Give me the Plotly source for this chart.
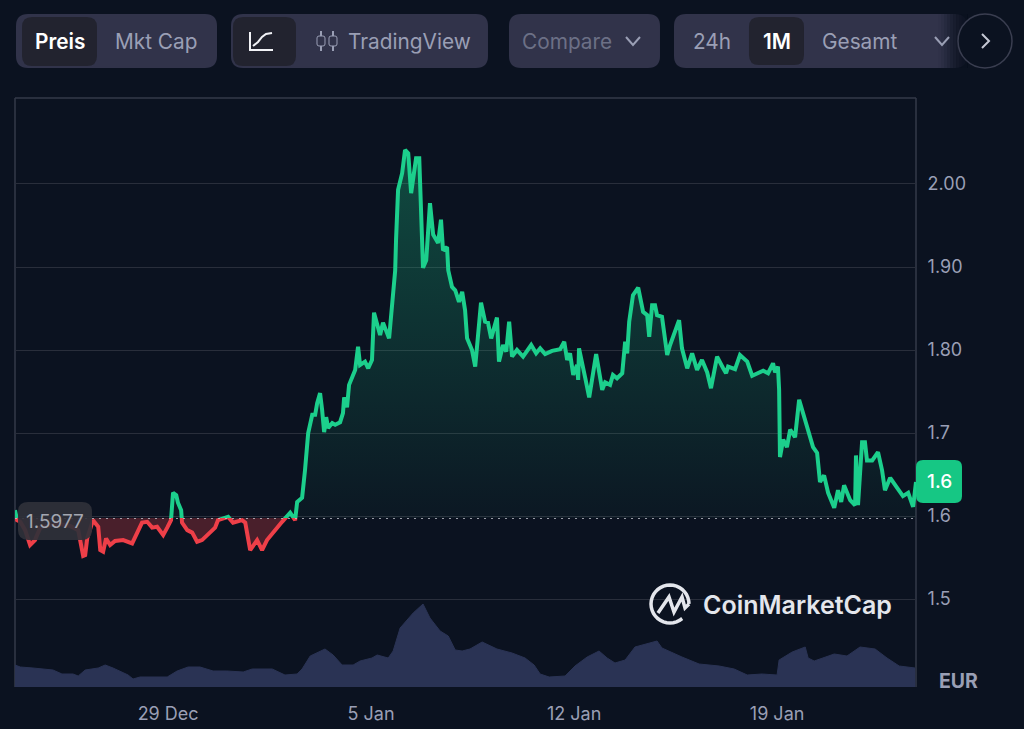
import numpy as np
import pandas as pd
import plotly.graph_objects as go

W, H = 1024, 729
LEFT, RIGHT, TOP, BOTTOM = 15, 916, 98, 687

# days relative to 29 Dec
price_days = [
    -5.28, -5.21, -5.10, -4.93, -4.76, -4.59, -4.41, -4.07, -3.72, -3.38, -3.10, -2.93, -2.86, -2.79, -2.59,
    -2.41, -2.34, -2.24, -2.14, -2.00, -1.83, -1.55, -1.24, -1.07, -0.90, -0.72, -0.55, -0.38, -0.17, -0.03,
    0.10, 0.17, 0.28, 0.34, 0.45, 0.48, 0.66, 0.83, 1.00, 1.17, 1.45, 1.62, 1.72, 2.07, 2.24,
    2.55, 2.66, 2.83, 3.07, 3.24, 3.41, 3.76, 3.93, 4.21, 4.38, 4.45, 4.62, 4.72, 4.79, 4.83,
    4.97, 5.07, 5.14, 5.24, 5.31, 5.38, 5.45, 5.52, 5.66, 5.76, 5.93, 6.03, 6.07, 6.17, 6.24,
    6.45, 6.55, 6.62, 6.79, 6.90, 7.03, 7.10, 7.31, 7.41, 7.62, 7.76, 7.83, 7.86, 7.93, 8.07,
    8.17, 8.28, 8.38, 8.55, 8.66, 8.79, 8.90, 9.03, 9.14, 9.31, 9.41, 9.48, 9.62, 9.66, 9.79,
    9.90, 10.03, 10.14, 10.24, 10.31, 10.48, 10.59, 10.79, 10.93, 11.03, 11.14, 11.34, 11.41, 11.55, 11.66,
    11.76, 11.86, 12.03, 12.24, 12.38, 12.52, 12.69, 12.83, 13.00, 13.24, 13.52, 13.66, 13.76, 13.86, 13.97,
    14.10, 14.14, 14.17, 14.38, 14.52, 14.76, 14.90, 14.97, 15.07, 15.24, 15.34, 15.48, 15.66, 15.76, 15.83,
    15.90, 16.03, 16.21, 16.38, 16.52, 16.59, 16.69, 16.79, 16.86, 17.03, 17.21, 17.31, 17.48, 17.62, 17.72,
    17.90, 18.07, 18.24, 18.41, 18.59, 18.72, 18.93, 19.14, 19.24, 19.31, 19.55, 19.72, 19.97, 20.14, 20.34,
    20.52, 20.69, 20.86, 20.93, 21.03, 21.07, 21.10, 21.21, 21.34, 21.45, 21.62, 21.76, 21.90, 22.07, 22.24,
    22.38, 22.48, 22.62, 22.76, 22.97, 23.10, 23.21, 23.31, 23.52, 23.69, 23.72, 23.79, 23.93, 24.03, 24.10,
    24.28, 24.48, 24.62, 24.72, 24.90, 25.14, 25.34, 25.52, 25.69, 25.79,
]
prices = [
    1.607, 1.595, 1.593, 1.583, 1.565, 1.571, 1.586, 1.589, 1.590, 1.588, 1.583, 1.552, 1.553, 1.573, 1.595,
    1.587, 1.559, 1.557, 1.573, 1.565, 1.570, 1.571, 1.567, 1.580, 1.592, 1.593, 1.586, 1.587, 1.577, 1.586,
    1.595, 1.628, 1.625, 1.616, 1.607, 1.592, 1.583, 1.580, 1.569, 1.571, 1.580, 1.586, 1.595, 1.599, 1.592,
    1.595, 1.592, 1.559, 1.571, 1.559, 1.571, 1.587, 1.593, 1.604, 1.595, 1.617, 1.622, 1.655, 1.692, 1.700,
    1.722, 1.722, 1.736, 1.748, 1.728, 1.701, 1.719, 1.706, 1.712, 1.710, 1.713, 1.724, 1.743, 1.731, 1.758,
    1.776, 1.804, 1.782, 1.786, 1.778, 1.788, 1.845, 1.818, 1.833, 1.814, 1.876, 1.896, 1.933, 1.993, 2.013,
    2.041, 2.037, 1.989, 2.031, 2.031, 1.899, 1.908, 1.977, 1.939, 1.929, 1.957, 1.920, 1.924, 1.896, 1.876,
    1.872, 1.858, 1.870, 1.848, 1.814, 1.800, 1.780, 1.857, 1.834, 1.833, 1.814, 1.839, 1.786, 1.806, 1.798,
    1.834, 1.792, 1.800, 1.792, 1.800, 1.806, 1.796, 1.802, 1.795, 1.799, 1.801, 1.810, 1.788, 1.796, 1.770,
    1.782, 1.764, 1.802, 1.767, 1.743, 1.795, 1.770, 1.752, 1.761, 1.758, 1.770, 1.766, 1.772, 1.810, 1.796,
    1.834, 1.866, 1.875, 1.846, 1.842, 1.816, 1.854, 1.854, 1.842, 1.840, 1.794, 1.806, 1.822, 1.836, 1.802,
    1.778, 1.796, 1.776, 1.788, 1.773, 1.754, 1.792, 1.778, 1.772, 1.780, 1.777, 1.794, 1.786, 1.769, 1.772,
    1.775, 1.772, 1.784, 1.773, 1.780, 1.752, 1.671, 1.692, 1.683, 1.704, 1.695, 1.740, 1.724, 1.701, 1.683,
    1.676, 1.641, 1.649, 1.628, 1.610, 1.631, 1.617, 1.637, 1.619, 1.613, 1.673, 1.613, 1.689, 1.689, 1.667,
    1.667, 1.677, 1.655, 1.631, 1.646, 1.634, 1.624, 1.628, 1.611, 1.641,
]
volume_days = [
    -5.28, -5.10, -4.66, -4.31, -3.97, -3.66, -3.28, -3.10, -2.86, -2.41, -2.17, -1.90, -1.38, -1.21, -0.97,
    -0.03, 0.31, 0.69, 1.10, 1.55, 2.03, 2.59, 2.90, 3.59, 4.03, 4.45, 4.62, 4.90, 5.41, 5.69,
    6.00, 6.38, 6.62, 7.03, 7.21, 7.59, 7.76, 8.00, 8.45, 8.79, 9.03, 9.38, 9.66, 9.90, 10.14,
    10.41, 10.83, 11.34, 11.86, 12.31, 12.62, 12.83, 13.14, 13.69, 14.03, 14.45, 14.86, 15.14, 15.41, 15.76,
    16.10, 16.86, 17.03, 17.72, 18.31, 19.00, 19.52, 19.97, 20.48, 21.00, 21.07, 21.52, 21.97, 22.07, 22.28,
    22.97, 23.41, 23.86, 24.38, 24.79, 25.21, 25.76,
]
volumes = [
    22, 20, 19, 18, 17, 13, 13, 11, 17, 19, 22, 19, 12, 8, 10,
    10, 16, 20, 20, 16, 16, 15, 18, 18, 12, 13, 18, 31, 38, 32,
    22, 22, 26, 29, 32, 29, 36, 59, 74, 83, 69, 56, 51, 37, 36,
    38, 45, 38, 34, 29, 22, 13, 10, 11, 21, 30, 36, 29, 24, 27,
    40, 46, 39, 30, 23, 21, 18, 12, 13, 12, 27, 35, 40, 29, 26,
    33, 31, 40, 38, 29, 21, 19,
]
reference_price = 1.5977
x_ticks = ["2024-12-29", "2025-01-05", "2025-01-12", "2025-01-19"]
x_labels = ["29 Dec", "5 Jan", "12 Jan", "19 Jan"]
upper_ticks = [1.6, 1.7, 1.8, 1.9, 2.0]
upper_labels = ["1.6", "1.7", "1.80", "1.90", "2.00"]
lower_ticks = [1.5]
lower_labels = ["1.5"]

BG = "#0b1220"
GREEN = "#1ccf8c"
RED = "#ee3f48"
GRID = "#292e3b"
PILL = "#31334a"
ACTIVE = "#22232f"
MUTED = "#9a9fb5"
FONT = "Inter"

Y_MIN, Y_MAX = 1.394, 2.1036
X_MIN, X_MAX = -5.28, 25.79


def to_dates(days):
    return pd.Timestamp("2024-12-29") + pd.to_timedelta(np.array(days), unit="D")


def px(x):
    return (x - LEFT) / (RIGHT - LEFT)


def py(y):
    return (BOTTOM - y) / (BOTTOM - TOP)


def poly(points, close=False):
    path = "M" + " L".join(f"{px(x):.5f},{py(y):.5f}" for x, y in points)
    return path + (" Z" if close else "")


def rounded(x0, y0, x1, y1, r):
    # rounded box as a path, quadratic corners
    p = lambda x, y: f"{px(x):.5f},{py(y):.5f}"
    return (
        f"M{p(x0 + r, y0)} L{p(x1 - r, y0)} Q{p(x1, y0)} {p(x1, y0 + r)} L{p(x1, y1 - r)} "
        f"Q{p(x1, y1)} {p(x1 - r, y1)} L{p(x0 + r, y1)} Q{p(x0, y1)} {p(x0, y1 - r)} "
        f"L{p(x0, y0 + r)} Q{p(x0, y0)} {p(x0 + r, y0)} Z"
    )


shapes = []
annotations = []


def box(x0, y0, x1, y1, r, fill, layer="above", line=None):
    shapes.append(dict(type="path", xref="paper", yref="paper", path=rounded(x0, y0, x1, y1, r),
                       fillcolor=fill, line=dict(width=1 if line else 0, color=line or fill), layer=layer))


def stroke(points, color, width=2):
    shapes.append(dict(type="path", xref="paper", yref="paper", path=poly(points),
                       line=dict(color=color, width=width), layer="above"))


def label(x, y, text, size=20.8, color=MUTED, weight=400):
    annotations.append(dict(xref="paper", yref="paper", x=px(x), y=py(y), text=text, showarrow=False,
                            xanchor="center", yanchor="middle",
                            font=dict(family=FONT, size=size, color=color, weight=weight)))


# toolbar
box(16, 14, 217, 68, 12, PILL)
box(22, 17, 97, 66, 10, ACTIVE)
label(59.5, 41, "Preis", color="#ffffff", weight=600)
label(156, 41, "Mkt Cap")

box(231, 14, 488, 68, 12, PILL)
box(233, 17, 296, 66, 10, ACTIVE)
stroke([(250, 32), (250, 50), (273, 50)], "#f2f3f7")
stroke([(253, 46), (258, 42), (262, 37), (266, 34), (272, 33)], "#f2f3f7")
for cx in (321, 333):
    stroke([(cx, 31), (cx, 36)], MUTED)
    stroke([(cx, 46), (cx, 51)], MUTED)
    box(cx - 4, 36, cx + 4, 46, 2, "rgba(0,0,0,0)", line=MUTED)
label(409, 41, "TradingView")

box(509, 14, 660, 68, 12, PILL)
label(567, 41, "Compare", color="#6c7086")
stroke([(626, 37), (633, 45), (640, 37)], MUTED)

box(674, 14, 967, 68, 12, PILL)
# the range pill fades out at its right end
for i, fade_x in enumerate(range(938, 967, 3)):
    box(fade_x, 14, 968, 68, 0, f"rgba(11,18,32,{0.05 + i * 0.04:.2f})")
box(749, 17, 804, 65, 10, ACTIVE)
label(712, 41, "24h")
label(776.5, 41, "1M", color="#ffffff", weight=600)
label(860, 41, "Gesamt")
stroke([(935, 37), (942, 45), (949, 37)], MUTED)
shapes.append(dict(type="circle", xref="paper", yref="paper", x0=px(958), x1=px(1012), y0=py(14), y1=py(68),
                   fillcolor=BG, line=dict(color="#3a3e50", width=1.5), layer="above"))
stroke([(982, 34), (989, 41), (982, 48)], "#c5c8d4")

# frame and last price line
shapes.append(dict(type="line", xref="paper", yref="paper", x0=0, x1=1, y0=1, y1=1,
                   line=dict(color="#343a48", width=1.5), layer="below"))
for edge in (0, 1):
    shapes.append(dict(type="line", xref="paper", yref="paper", x0=edge, x1=edge, y0=0, y1=1,
                       line=dict(color="#343a48", width=1.5), layer="below"))
shapes.append(dict(type="line", xref="paper", yref="y2", x0=0, x1=1, y0=reference_price, y1=reference_price,
                   line=dict(color="#c9ccd4", width=1.5, dash="2px,5px"), layer="above"))

box(18, 502, 92, 540, 10, "rgba(48,49,58,0.92)")
label(55, 521, "1.5977", size=19, color="#a3a6b0")
box(916, 460, 962, 503, 7, "#16c784")
label(939, 482, "1.6", size=19, color="#ffffff", weight=500)
label(958.5, 681, "EUR", size=19.5, color=MUTED, weight=700)

# watermark
arc = np.radians(np.arange(-50, -361, -10))
logo_x, logo_y = 670, 604
stroke([(logo_x + 19 * np.cos(a), logo_y - 19 * np.sin(a)) for a in arc], "#e4e6ec", 3.5)
stroke([(658, 613), (669, 597), (674, 612), (682, 597), (685, 608), (689, 604)], "#e4e6ec", 3.5)
label(797, 605, "CoinMarketCap", size=25, color="#e4e6ec", weight=600)

dates = to_dates(price_days)
ends = to_dates([X_MIN, X_MAX])
split = (reference_price - Y_MIN) / (Y_MAX - Y_MIN)

fig = go.Figure()
fig.add_trace(go.Scatter(x=to_dates(volume_days), y=volumes, yaxis="y3", mode="lines", fill="tozeroy",
                         fillcolor="#2a3354", line=dict(color="#2a3354", width=1), hoverinfo="skip"))
# same series on two axes that meet at the reference price: each one clips its own colour
fig.add_trace(go.Scatter(x=ends, y=[reference_price] * 2, yaxis="y", mode="lines", line=dict(width=0),
                         hoverinfo="skip"))
fig.add_trace(go.Scatter(x=dates, y=prices, yaxis="y", mode="lines", fill="tonexty",
                         line=dict(color=GREEN, width=4),
                         fillgradient=dict(type="vertical", start=2.041, stop=reference_price,
                                           colorscale=[[0, "rgba(28,207,140,0.30)"], [1, "rgba(28,207,140,0.03)"]])))
fig.add_trace(go.Scatter(x=ends, y=[reference_price] * 2, yaxis="y2", mode="lines", line=dict(width=0),
                         hoverinfo="skip"))
fig.add_trace(go.Scatter(x=dates, y=prices, yaxis="y2", mode="lines", fill="tonexty",
                         line=dict(color=RED, width=4), fillcolor="rgba(238,63,72,0.28)"))

axis_font = dict(family=FONT, size=18, color=MUTED)
y_common = dict(side="right", anchor="x", automargin=False, showgrid=True, gridcolor=GRID, gridwidth=1.2,
                zeroline=False, showline=False, ticks="outside", ticklen=7, tickcolor="rgba(0,0,0,0)",
                tickfont=axis_font, tickmode="array")
fig.update_layout(
    width=W,
    height=H,
    autosize=False,
    showlegend=False,
    paper_bgcolor=BG,
    plot_bgcolor="rgba(0,0,0,0)",
    margin=dict(l=LEFT, r=W - RIGHT, t=TOP, b=H - BOTTOM),
    xaxis=dict(type="date", range=[ends[0], ends[1]], tickmode="array", tickvals=x_ticks, ticktext=x_labels,
               anchor="y3", automargin=False, showgrid=False, zeroline=False, showline=False, ticks="outside",
               ticklen=10, tickcolor="rgba(0,0,0,0)", tickfont=axis_font),
    yaxis=dict(domain=[split, 1], range=[reference_price, Y_MAX], tickvals=upper_ticks, ticktext=upper_labels,
               **y_common),
    yaxis2=dict(domain=[0, split], range=[Y_MIN, reference_price], tickvals=lower_ticks, ticktext=lower_labels,
                **y_common),
    yaxis3=dict(domain=[0, 100 / (BOTTOM - TOP)], range=[0, 100], anchor="x", visible=False),
    shapes=shapes,
    annotations=annotations,
)

fig.write_html("out.html", config=dict(displayModeBar=False),
               post_script="document.body.style.margin='0';document.body.style.background='#0b1220';")
